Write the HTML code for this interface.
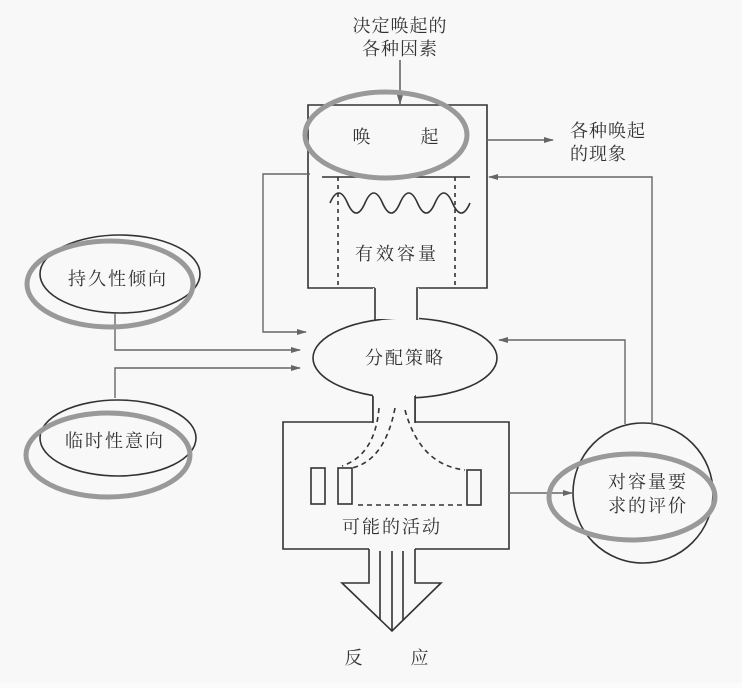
<!DOCTYPE html>
<html><head><meta charset="utf-8"><style>
html,body{margin:0;padding:0;background:#fbfbfb;}
svg text{font-family:"Liberation Serif","Noto Serif CJK SC","Noto Sans CJK SC",serif;fill:#333;}
</style></head><body>
<svg width="742" height="683" viewBox="0 0 742 683" xmlns="http://www.w3.org/2000/svg">
<defs><marker id="a" markerWidth="10" markerHeight="8" refX="9" refY="4" orient="auto" markerUnits="userSpaceOnUse"><path d="M0,1 L10,4 L0,7 z" fill="#666"/></marker></defs>
<rect width="742" height="683" fill="#f8f8f8"/>
<g fill="none" stroke="#333" stroke-width="1.6">
<line x1="400" y1="60" x2="400" y2="104" stroke="#666" marker-end="url(#a)"/>
<path d="M375,288 L308,288 L308,105 L487,105 L487,288 L417,288 L417,318"/>
<ellipse cx="405" cy="358" rx="92" ry="40" fill="#f8f8f8"/>
<rect x="373" y="288" width="46" height="31" fill="#f8f8f8" stroke="none"/>
<line x1="375" y1="288" x2="375" y2="320"/>
<line x1="417" y1="288" x2="417" y2="320"/>
<line x1="322" y1="177" x2="470" y2="177"/>
<path d="M330,203 q8.75,-20 17.5,0 t17.5,0 t17.5,0 t17.5,0 t17.5,0 t17.5,0 t17.5,0 t17.5,0"/>
<line x1="338" y1="177" x2="338" y2="288" stroke-dasharray="4,4"/>
<line x1="455" y1="177" x2="455" y2="288" stroke-dasharray="4,4"/>
<path d="M373,395 L373,422 L283,422 L283,549 L369,549"/>
<path d="M415,395 L415,422 L509,422 L509,549 L415,549"/>
<rect x="373" y="392" width="42" height="31" fill="#f8f8f8" stroke="none"/>
<line x1="373" y1="396" x2="373" y2="423"/>
<line x1="415" y1="396" x2="415" y2="423"/>
<path d="M369,549 L369,583 L342,583 L392,631 L441,583 L415,583 L415,549" fill="#f8f8f8"/>
<line x1="380" y1="551" x2="380" y2="620"/>
<line x1="392" y1="551" x2="392" y2="630"/>
<line x1="403" y1="551" x2="403" y2="620"/>
<rect x="311" y="468" width="14" height="36"/>
<rect x="338" y="468" width="14" height="36"/>
<rect x="467" y="470" width="14" height="35"/>
<g stroke-dasharray="5,4">
<path d="M379,408 Q375,455 342,466"/>
<path d="M395,408 Q385,460 352,468"/>
<path d="M405,410 Q420,465 465,470"/>
<line x1="358" y1="505" x2="465" y2="505"/>
</g>
<circle cx="643" cy="493" r="70"/>
<ellipse cx="120" cy="274" rx="80" ry="39"/>
<ellipse cx="118" cy="438" rx="78" ry="38"/>
</g>
<g fill="none" stroke="#666" stroke-width="1.4">
<line x1="487" y1="140" x2="553" y2="140" marker-end="url(#a)"/>
<polyline points="310,174 263,174 263,332 306,332" marker-end="url(#a)"/>
<polyline points="115,313 115,350 300,350" marker-end="url(#a)"/>
<polyline points="115,398 115,368 300,368" marker-end="url(#a)"/>
<polyline points="652,424 652,177 489,177" marker-end="url(#a)"/>
<polyline points="625,424 625,340 499,340" marker-end="url(#a)"/>
<line x1="509" y1="493" x2="572" y2="493" marker-end="url(#a)"/>
</g>
<g fill="none" stroke="#999" stroke-width="5">
<ellipse cx="386" cy="135" rx="81" ry="43"/>
<ellipse cx="110" cy="284" rx="83" ry="43"/>
<ellipse cx="108" cy="455" rx="82" ry="42"/>
<ellipse cx="632" cy="497" rx="83" ry="43"/>
</g>
<g font-size="18" letter-spacing="1">
<text x="400" y="32" text-anchor="middle">决定唤起的</text>
<text x="400" y="55" text-anchor="middle">各种因素</text>
<text x="362" y="143" text-anchor="middle">唤</text>
<text x="430" y="143" text-anchor="middle">起</text>
<text x="570" y="137">各种唤起</text>
<text x="570" y="160">的现象</text>
<text x="397" y="260" text-anchor="middle" letter-spacing="3">有效容量</text>
<text x="405" y="364" text-anchor="middle" letter-spacing="2">分配策略</text>
<text x="118" y="285" text-anchor="middle" letter-spacing="2">持久性倾向</text>
<text x="115" y="447" text-anchor="middle" letter-spacing="2">临时性意向</text>
<text x="392" y="533" text-anchor="middle" letter-spacing="2">可能的活动</text>
<text x="648" y="488" text-anchor="middle" letter-spacing="2">对容量要</text>
<text x="648" y="512" text-anchor="middle" letter-spacing="2">求的评价</text>
<text x="354" y="664" text-anchor="middle">反</text>
<text x="420" y="664" text-anchor="middle">应</text>
</g>
</svg>
</body></html>
